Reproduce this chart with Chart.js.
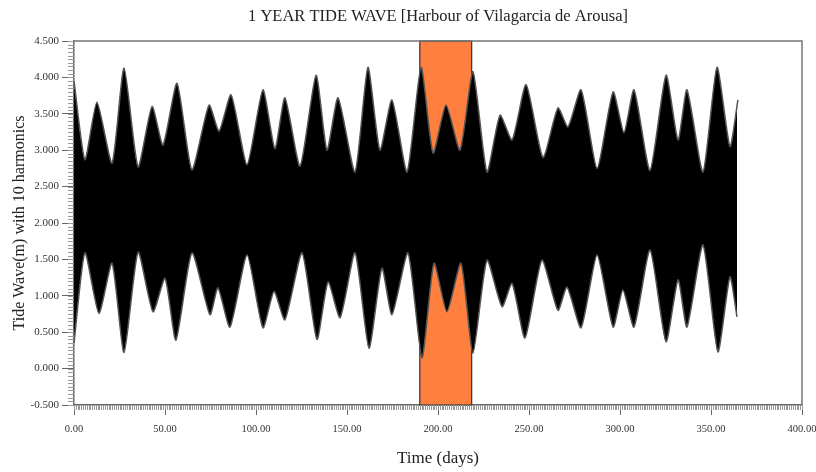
<!DOCTYPE html>
<html>
<head>
<meta charset="utf-8">
<script src="https://cdn.jsdelivr.net/npm/chart.js@4.4.0/dist/chart.umd.min.js"></script>
<style>
  html, body { margin: 0; padding: 0; background: #fff; }
  #wrap { width: 816px; height: 472px; }
</style>
</head>
<body>
<div id="wrap"><canvas id="tide"></canvas></div>
<script>
// Upper envelope of the tide wave (high waters)
const upperDays = [0, 6.0, 12.6, 20.9, 27.5, 35.2, 42.9, 48.9, 56.6, 64.8, 74.2, 79.7, 86.3, 95.1,
  103.8, 110.4, 115.9, 124.2, 133.0, 139.0, 145.1, 154.4, 161.5, 168.1, 174.7, 183.0, 190.7,
  197.3, 204.4, 212.1, 219.2, 226.9, 234.1, 240.7, 248.4, 257.7, 265.9, 271.4, 278.6, 287.4,
  296.2, 302.2, 307.7, 316.5, 325.3, 331.9, 336.8, 345.6, 353.3, 360.4, 364.8];
const upperLevels = [3.95, 2.87, 3.66, 2.82, 4.13, 2.77, 3.60, 3.07, 3.92, 2.73, 3.62, 3.26, 3.76, 2.80,
  3.83, 3.02, 3.72, 2.78, 4.03, 3.00, 3.72, 2.70, 4.14, 3.00, 3.69, 2.70, 4.14,
  2.96, 3.62, 3.00, 4.08, 2.70, 3.48, 3.14, 3.90, 2.90, 3.58, 3.32, 3.83, 2.75,
  3.80, 3.24, 3.83, 2.72, 4.03, 3.14, 3.83, 2.70, 4.14, 3.05, 3.69];

// Lower envelope (low waters)
const lowerDays = [0, 6.0, 13.7, 20.9, 27.5, 35.2, 43.4, 50.0, 56.0, 64.8, 74.7, 79.1, 85.7, 95.1,
  103.8, 109.9, 115.9, 125.3, 133.5, 139.6, 146.2, 154.4, 162.1, 169.2, 174.7, 183.5, 191.2,
  197.8, 204.9, 212.6, 219.2, 226.9, 235.2, 240.7, 247.8, 257.1, 265.9, 270.9, 278.6, 287.4,
  296.2, 301.6, 307.7, 316.5, 325.3, 331.9, 336.8, 345.6, 353.8, 360.4, 364.3];
const lowerLevels = [0.35, 1.59, 0.76, 1.45, 0.22, 1.60, 0.78, 1.24, 0.39, 1.59, 0.74, 1.11, 0.57, 1.56,
  0.56, 1.06, 0.67, 1.59, 0.40, 1.19, 0.70, 1.59, 0.28, 1.38, 0.74, 1.59, 0.15,
  1.45, 0.78, 1.45, 0.21, 1.49, 0.85, 1.17, 0.42, 1.49, 0.80, 1.12, 0.56, 1.56,
  0.57, 1.08, 0.57, 1.63, 0.37, 1.22, 0.57, 1.70, 0.23, 1.26, 0.71];

// highlighted window (days)
const bandStart = 190;
const bandEnd = 218.5;

const toPoints = (xs, ys) => xs.map((x, i) => ({ x: x, y: ys[i] }));
const serif = "'Liberation Serif', 'DejaVu Serif', serif";

// orange window behind the wave, plot frame, minor ticks and the title
const decorPlugin = {
  id: "decor",
  beforeDatasetsDraw(chart) {
    const { ctx, chartArea, scales } = chart;
    const x1 = scales.x.getPixelForValue(bandStart);
    const x2 = scales.x.getPixelForValue(bandEnd);
    ctx.save();
    ctx.fillStyle = "#ff7f3e";
    ctx.fillRect(x1, chartArea.top, x2 - x1, chartArea.bottom - chartArea.top);
    ctx.strokeStyle = "#333";
    ctx.lineWidth = 1.2;
    ctx.strokeRect(x1, chartArea.top, x2 - x1, chartArea.bottom - chartArea.top);
    ctx.restore();
  },
  afterDraw(chart) {
    const { ctx, chartArea, scales } = chart;
    ctx.save();
    // frame
    ctx.strokeStyle = "#777";
    ctx.lineWidth = 1.5;
    ctx.beginPath();
    ctx.moveTo(chartArea.left, chartArea.top);
    ctx.lineTo(chartArea.right, chartArea.top);
    ctx.lineTo(chartArea.right, chartArea.bottom);
    ctx.stroke();

    // minor ticks
    ctx.strokeStyle = "#999";
    ctx.lineWidth = 1;
    ctx.beginPath();
    for (let d = 0; d <= 400; d += 1) {
      const px = Math.round(scales.x.getPixelForValue(d)) + 0.5;
      ctx.moveTo(px, chartArea.bottom);
      ctx.lineTo(px, chartArea.bottom + 5);
    }
    for (let k = -10; k <= 90; k++) {
      const py = Math.round(scales.y.getPixelForValue(k * 0.05)) + 0.5;
      ctx.moveTo(chartArea.left, py);
      ctx.lineTo(chartArea.left - 6, py);
    }
    ctx.stroke();

    // title centred over the plot
    ctx.fillStyle = "#222";
    ctx.font = "16.5px " + serif;
    ctx.textAlign = "center";
    ctx.textBaseline = "middle";
    ctx.fillText("1 YEAR TIDE WAVE [Harbour of Vilagarcia de Arousa]",
      (chartArea.left + chartArea.right) / 2, 17);
    ctx.restore();
  }
};

new Chart(document.getElementById("tide"), {
  type: "line",
  data: {
    datasets: [
      {
        label: "High water",
        data: toPoints(upperDays, upperLevels),
        borderColor: "#555",
        borderWidth: 1.5,
        backgroundColor: "#000",
        pointRadius: 0,
        tension: 0.2,
        fill: false
      },
      {
        label: "Low water",
        data: toPoints(lowerDays, lowerLevels),
        borderColor: "#555",
        borderWidth: 1.5,
        backgroundColor: "#000",
        pointRadius: 0,
        tension: 0.2,
        fill: "-1"
      }
    ]
  },
  options: {
    responsive: true,
    maintainAspectRatio: false,
    animation: false,
    layout: { padding: { top: 41, right: 14, left: 0, bottom: 0 } },
    plugins: {
      legend: { display: false },
      tooltip: { enabled: false }
    },
    scales: {
      x: {
        type: "linear",
        min: 0,
        max: 400,
        afterFit: (scale) => {
          scale.height = 67;
          scale.paddingLeft = 0;
          scale.paddingRight = 0;
        },
        ticks: {
          stepSize: 50,
          padding: 8,
          color: "#333",
          font: { family: serif, size: 10.5 },
          callback: (v) => v.toFixed(2)
        },
        grid: { drawOnChartArea: false, drawTicks: true, tickLength: 10, color: "#666" },
        border: { display: true, color: "#666", width: 1.5 },
        title: {
          display: true,
          text: "Time (days)",
          color: "#222",
          font: { family: serif, size: 17 },
          padding: { top: 0, bottom: 3 }
        }
      },
      y: {
        min: -0.5,
        max: 4.5,
        afterFit: (scale) => {
          scale.width = 74;
          scale.paddingTop = 0;
          scale.paddingBottom = 0;
        },
        ticks: {
          stepSize: 0.5,
          padding: 3,
          color: "#333",
          font: { family: serif, size: 11 },
          callback: (v) => v.toFixed(3)
        },
        grid: { drawOnChartArea: false, drawTicks: true, tickLength: 12, color: "#666" },
        border: { display: true, color: "#666", width: 1.5 },
        title: {
          display: true,
          text: "Tide Wave(m) with 10 harmonics",
          color: "#222",
          font: { family: serif, size: 16 },
          padding: { top: 10, bottom: 0 }
        }
      }
    }
  },
  plugins: [decorPlugin]
});
</script>
</body>
</html>
